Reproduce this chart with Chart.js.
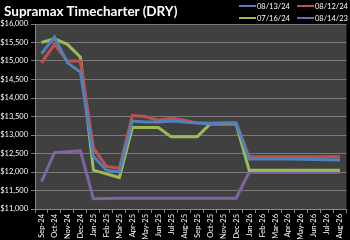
<!DOCTYPE html>
<html>
<head>
<meta charset="utf-8">
<script src="https://cdn.jsdelivr.net/npm/chart.js@4/dist/chart.umd.min.js"></script>
<style>
  html, body { margin: 0; padding: 0; background: #000; }
  #wrap { position: relative; width: 350px; height: 240px; overflow: hidden; }
  #title { position: absolute; left: 4px; top: 3px; color: #fff; font: bold 13.5px Lato, sans-serif; white-space: nowrap; }
  .leg { position: absolute; color: #fff; font: 7.5px Lato, sans-serif; display: flex; align-items: center; white-space: nowrap; }
  .leg i { display: inline-block; width: 17px; height: 2px; margin-right: 1px; }
</style>
</head>
<body>
<div id="wrap">
  <canvas id="chart" width="350" height="240"></canvas>
  <div id="title">Supramax Timecharter (DRY)</div>
  <div id="legend"></div>
</div>
<script>
// categorias (meses)
const months = ['Sep-24','Oct-24','Nov-24','Dec-24','Jan-25','Feb-25','Mar-25','Apr-25','May-25','Jun-25','Jul-25','Aug-25',
                'Sep-25','Oct-25','Nov-25','Dec-25','Jan-26','Feb-26','Mar-26','Apr-26','May-26','Jun-26','Jul-26','Aug-26'];

// séries
const s081324 = [15200,15650,14950,14700,12425,12050,12000,13375,13350,13350,13375,13350,
                 13325,13300,13325,13325,12350,12350,12350,12350,12345,12340,12330,12325];
const s081224 = [14950,15450,15000,15000,12650,12150,12100,13525,13500,13400,13450,13400,
                 13325,13325,13325,13325,12410,12410,12410,12410,12410,12410,12410,12410];
const s071624 = [15500,15600,15450,15100,12050,11950,11850,13200,13200,13200,12950,12950,
                 12950,13300,13300,13300,12050,12050,12050,12050,12050,12050,12050,12050];
const s081423 = [11740,12525,12550,12575,11275,11285,11290,11290,11290,11290,11290,11290,
                 11290,11290,11290,11290,11990,11990,11990,11990,11990,11990,11990,11990];

const yTicksMin = 11000;
const yTicksMax = 16000;
const yStep = 500;

const series = [
  { label: '08/13/24', data: s081324, color: '#4f81bd' },
  { label: '08/12/24', data: s081224, color: '#c0504d' },
  { label: '07/16/24', data: s071624, color: '#9bbb59' },
  { label: '08/14/23', data: s081423, color: '#8064a2' }
];

// legenda em HTML (2 linhas, 2 colunas)
const legPos = [[239, 1], [297, 1], [239, 13], [297, 13]];
document.getElementById('legend').innerHTML = series.map((s, i) =>
  `<div class="leg" style="left:${legPos[i][0]}px;top:${legPos[i][1]}px;height:10px"><i style="background:${s.color}"></i>${s.label}</div>`
).join('');

// fundo da área de plotagem
const plotBg = {
  id: 'plotBg',
  beforeDraw(chart) {
    const { ctx, chartArea: a } = chart;
    ctx.save();
    ctx.fillStyle = '#404040';
    ctx.fillRect(a.left, a.top, a.right - a.left, a.bottom - a.top);
    ctx.restore();
  }
};

const font = { family: 'Lato, sans-serif', size: 7.5 };

new Chart(document.getElementById('chart'), {
  type: 'line',
  data: {
    labels: months,
    datasets: series.map(s => ({
      label: s.label,
      data: s.data,
      borderColor: s.color,
      backgroundColor: s.color,
      borderWidth: 3,
      pointRadius: 0,
      tension: 0
    }))
  },
  options: {
    responsive: false,
    devicePixelRatio: 1,
    animation: false,
    layout: { padding: { top: 24, right: 1, left: 0, bottom: 0 } },
    plugins: { legend: { display: false }, tooltip: { enabled: false } },
    scales: {
      x: {
        offset: true,
        grid: { offset: true, drawOnChartArea: false, drawTicks: true, tickLength: 4, color: '#888' },
        border: { color: '#888' },
        ticks: { color: '#fff', font, minRotation: 90, maxRotation: 90, padding: 1, autoSkip: false },
        afterFit(scale) { scale.height = 31; }
      },
      y: {
        min: yTicksMin,
        max: yTicksMax,
        ticks: {
          stepSize: yStep, color: '#fff', font, padding: 3,
          callback: v => '$' + v.toLocaleString('en-US')
        },
        grid: { color: '#7a7a7a', tickLength: 4 },
        border: { color: '#888' },
        afterFit(scale) { scale.width = 35; }
      }
    }
  },
  plugins: [plotBg]
});
</script>
</body>
</html>
